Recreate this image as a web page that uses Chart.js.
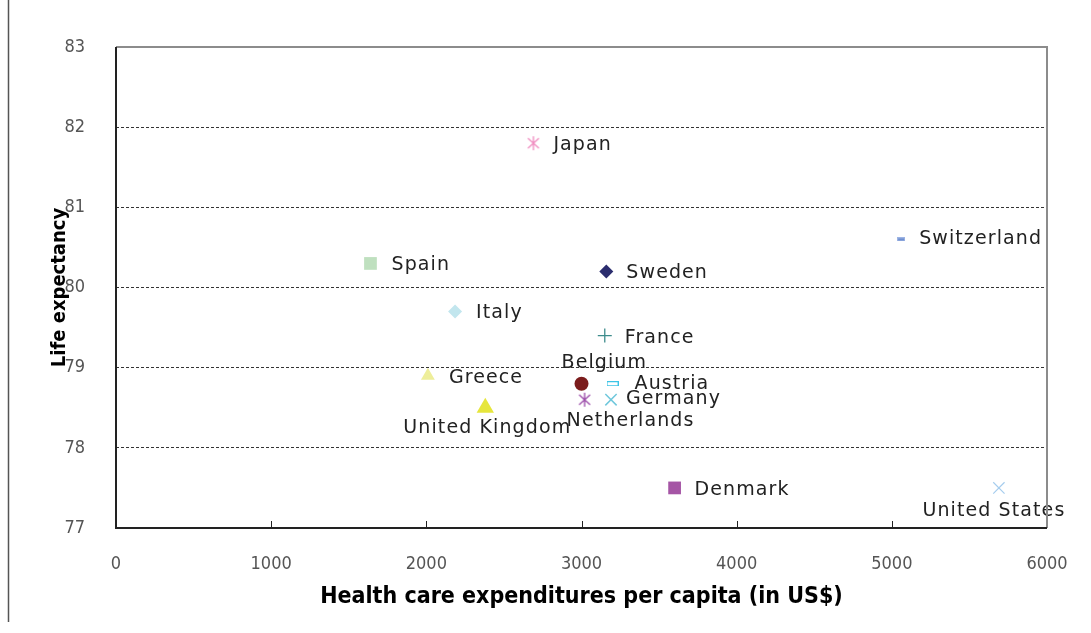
<!DOCTYPE html>
<html>
<head>
<meta charset="utf-8">
<script src="https://cdn.jsdelivr.net/npm/chart.js@4/dist/chart.umd.min.js"></script>
<style>
  html, body { margin: 0; padding: 0; background: #fff; }
  #wrap { width: 1091px; height: 633px; }
</style>
</head>
<body>
<div id="wrap"><canvas id="chart"></canvas></div>
<script>
// Data
const countries = ['Japan', 'Sweden', 'Switzerland', 'Spain', 'Italy', 'France', 'Belgium',
  'Austria', 'Greece', 'United Kingdom', 'Netherlands', 'Germany', 'Denmark', 'United States'];
const spending = [2690, 3160, 5060, 1640, 2185, 3150, 3000, 3200, 2010, 2380, 3020, 3190, 3600, 5690];
const lifeExp = [81.8, 80.2, 80.6, 80.3, 79.7, 79.4, 78.8, 78.8, 78.9, 78.5, 78.6, 78.6, 77.5, 77.5];
const xTickValues = [0, 1000, 2000, 3000, 4000, 5000, 6000];
const yTickValues = [77, 78, 79, 80, 81, 82, 83];

// small canvases for the marker shapes Chart.js doesn't have
const makeMarker = (w, h, draw) => {
  const c = document.createElement('canvas');
  c.width = w;
  c.height = h;
  draw(c.getContext('2d'), w, h);
  return c;
};

const asterisk = (color) => makeMarker(16, 16, (g) => {
  g.strokeStyle = color;
  g.lineWidth = 1.3;
  g.beginPath();
  g.moveTo(8, 1); g.lineTo(8, 15);
  g.moveTo(2.5, 3); g.lineTo(13.5, 13);
  g.moveTo(13.5, 3); g.lineTo(2.5, 13);
  g.stroke();
});

const dash = (w, h, fill, stroke) => makeMarker(w, h, (g) => {
  g.fillStyle = fill;
  g.fillRect(0, 0, w, h);
  g.strokeStyle = stroke;
  g.lineWidth = 1;
  g.strokeRect(0.5, 0.5, w - 1, h - 1);
});

// marker look per country
const markers = {
  'Japan': { style: asterisk('#f08cc0') },
  'Sweden': { style: 'rectRot', color: '#2b2d6e', radius: 7 },
  'Switzerland': { style: dash(8, 4, '#6f8fd0', '#9db4e4') },
  'Spain': { style: 'rect', color: '#bfe0bf', radius: 9 },
  'Italy': { style: 'rectRot', color: '#c2e6ee', radius: 7 },
  'France': { style: 'cross', color: '#3e8c8c', radius: 7, border: 1.3 },
  'Belgium': { style: 'circle', color: '#7b1c1c', radius: 7 },
  'Austria': { style: dash(12, 5, '#ffffff', '#3cc4e6') },
  'Greece': { style: 'triangle', color: '#eeee9a', radius: 8 },
  'United Kingdom': { style: 'triangle', color: '#e6e63c', radius: 10 },
  'Netherlands': { style: asterisk('#9a4aa8') },
  'Germany': { style: 'crossRot', color: '#70c8dc', radius: 8, border: 1.5 },
  'Denmark': { style: 'rect', color: '#a555a5', radius: 9 },
  'United States': { style: 'crossRot', color: '#a6cdee', radius: 8, border: 1.2 }
};

// where each data label sits relative to its point
const labelPlace = {
  'Japan': { dx: 20, dy: 2, align: 'left' },
  'Sweden': { dx: 20, dy: 2, align: 'left' },
  'Switzerland': { dx: 18, dy: 0, align: 'left' },
  'Spain': { dx: 21, dy: 2, align: 'left' },
  'Italy': { dx: 21, dy: 2, align: 'left' },
  'France': { dx: 20, dy: 2, align: 'left' },
  'Belgium': { dx: -20, dy: -21, align: 'left' },
  'Austria': { dx: 22, dy: 0, align: 'left' },
  'Greece': { dx: 21, dy: 2, align: 'left' },
  'United Kingdom': { dx: 2, dy: 20, align: 'center' },
  'Netherlands': { dx: -18, dy: 21, align: 'left' },
  'Germany': { dx: 15, dy: -1, align: 'left' },
  'Denmark': { dx: 20, dy: 2, align: 'left' },
  'United States': { dx: -5, dy: 23, align: 'center' }
};

const datasets = countries.map((name, i) => {
  const m = markers[name];
  return {
    label: name,
    data: [{ x: spending[i], y: lifeExp[i] }],
    pointStyle: m.style,
    pointRadius: m.radius || 7,
    pointHoverRadius: m.radius || 7,
    backgroundColor: m.color || '#000',
    borderColor: m.color || '#000',
    pointBorderWidth: m.border || 0
  };
});

// frame, inner tick marks, point labels and the stray line on the left
const decorations = {
  id: 'decorations',
  afterDatasetsDraw(chart) {
    const { ctx, chartArea: a, scales } = chart;
    ctx.save();

    // x tick marks pointing into the plot
    ctx.strokeStyle = '#222';
    ctx.lineWidth = 1;
    xTickValues.forEach((v) => {
      const px = Math.round(scales.x.getPixelForValue(v)) + 0.5;
      ctx.beginPath();
      ctx.moveTo(px, a.bottom);
      ctx.lineTo(px, a.bottom - 7);
      ctx.stroke();
    });

    // data labels
    ctx.fillStyle = '#222';
    ctx.font = '19px "DejaVu Sans", sans-serif';
    ctx.letterSpacing = '1.1px';
    ctx.textBaseline = 'middle';
    countries.forEach((name, i) => {
      const p = labelPlace[name];
      const px = scales.x.getPixelForValue(spending[i]);
      const py = scales.y.getPixelForValue(lifeExp[i]);
      ctx.textAlign = p.align;
      ctx.fillText(name, px + p.dx, py + p.dy);
    });
    ctx.letterSpacing = '0px';

    // top and right sides in grey
    ctx.strokeStyle = '#8c8c8c';
    ctx.lineWidth = 2;
    ctx.beginPath();
    ctx.moveTo(a.left, a.top);
    ctx.lineTo(a.right, a.top);
    ctx.lineTo(a.right, a.bottom);
    ctx.stroke();

    // left and bottom sides dark
    ctx.strokeStyle = '#222';
    ctx.beginPath();
    ctx.moveTo(a.left, a.top);
    ctx.lineTo(a.left, a.bottom);
    ctx.lineTo(a.right, a.bottom);
    ctx.stroke();

    // the line down the left edge of the picture
    ctx.strokeStyle = '#555';
    ctx.lineWidth = 1.5;
    ctx.beginPath();
    ctx.moveTo(8.5, 0);
    ctx.lineTo(8.5, 622);
    ctx.stroke();

    ctx.restore();
  }
};

const narrow = '"Liberation Sans Narrow", "DejaVu Sans Condensed", "Liberation Sans", sans-serif';
const tickFont = { family: narrow, size: 18 };

new Chart(document.getElementById('chart'), {
  type: 'scatter',
  data: { datasets },
  plugins: [decorations],
  options: {
    responsive: true,
    maintainAspectRatio: false,
    animation: false,
    layout: { padding: { top: 47, right: 44, left: 0, bottom: 0 } },
    plugins: {
      legend: { display: false },
      tooltip: { enabled: false }
    },
    scales: {
      x: {
        type: 'linear',
        min: 0,
        max: 6000,
        afterBuildTicks: (s) => { s.ticks = xTickValues.map((v) => ({ value: v })); },
        afterFit: (s) => { s.height = 105; },
        ticks: { color: '#555', font: tickFont, padding: 18, maxRotation: 0, callback: (v) => String(v) },
        grid: { display: false },
        border: { display: false },
        title: {
          display: true,
          text: 'Health care expenditures per capita (in US$)',
          color: '#000',
          font: { family: narrow, size: 23, weight: 'bold' },
          padding: { top: 22, bottom: 22 }
        }
      },
      y: {
        type: 'linear',
        min: 77,
        max: 83,
        afterBuildTicks: (s) => { s.ticks = yTickValues.map((v) => ({ value: v })); },
        afterFit: (s) => { s.width = 116; },
        ticks: { color: '#555', font: tickFont, padding: 31, callback: (v) => String(v) },
        grid: {
          drawTicks: false,
          lineWidth: 1,
          color: (c) => (c.tick && (c.tick.value === 77 || c.tick.value === 83)) ? 'rgba(0,0,0,0)' : '#333'
        },
        border: { display: false, dash: [3, 2] },
        title: {
          display: true,
          text: 'Life expectancy',
          color: '#000',
          font: { family: narrow, size: 20, weight: 'bold' },
          padding: { top: 48, bottom: 48 }
        }
      }
    }
  }
});
</script>
</body>
</html>
